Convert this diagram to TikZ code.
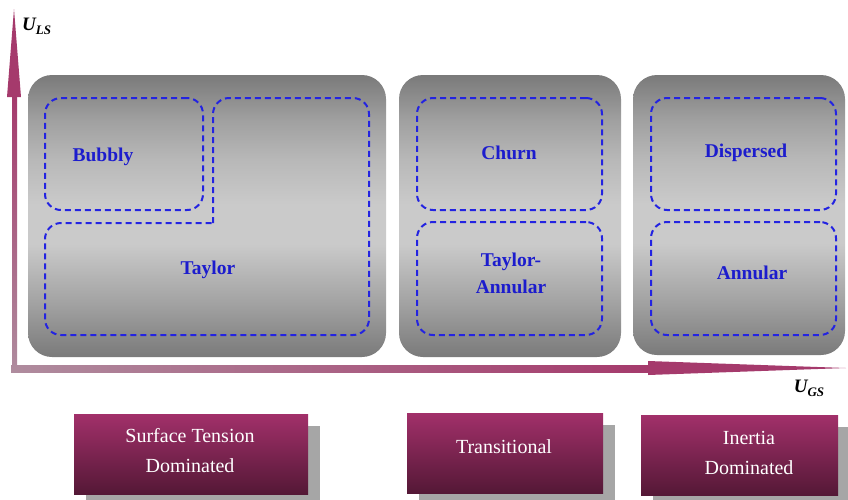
\documentclass[tikz,border=0pt]{standalone}
\usepackage{fontspec}
\setmainfont{Liberation Serif}
\usetikzlibrary{shadows,calc}
\definecolor{lblblue}{RGB}{28,28,205}
\definecolor{dashblue}{RGB}{35,35,225}
\definecolor{axmag}{RGB}{165,58,108}
\definecolor{axgray}{RGB}{175,140,158}
\definecolor{boxtop}{RGB}{162,48,106}
\definecolor{boxbot}{RGB}{84,24,54}
\definecolor{gdark}{RGB}{122,122,122}
\definecolor{gmid}{RGB}{160,160,160}
\definecolor{gmidb}{RGB}{184,184,184}
\definecolor{glight}{RGB}{202,202,202}
\pgfdeclareverticalshading{grayband}{100bp}{color(0bp)=(gdark); color(25bp)=(gdark); color(34bp)=(gmid); color(45bp)=(glight); color(52bp)=(glight); color(60bp)=(gmidb); color(67bp)=(gmid); color(75bp)=(gdark); color(100bp)=(gdark)}
\tikzset{
  graybox/.style={rounded corners=24pt, shade, shading=grayband, inner sep=0pt},
  regbox/.style={draw=dashblue, line width=2pt, dash pattern=on 6pt off 4pt, rounded corners=16pt, inner sep=0pt, minimum width=185pt, minimum height=112pt},
  regline/.style={draw=dashblue, line width=2pt, dash pattern=on 6pt off 4pt, rounded corners=16pt},
  reglabel/.style={text=lblblue, font=\fontsize{19.5}{26}\selectfont\bfseries, align=center, inner sep=0pt},
  forcebox/.style={top color=boxtop, bottom color=boxbot, inner sep=0pt, minimum height=80pt,
    drop shadow={shadow xshift=12pt, shadow yshift=-12pt, opacity=1, fill=black!35}},
  forcetext/.style={text=white, font=\fontsize{20}{30}\selectfont, align=center, inner sep=0pt},
  axlabel/.style={font=\fontsize{19}{20}\selectfont\bfseries\itshape, inner sep=0pt},
}
\begin{document}
\begin{tikzpicture}[x=1pt,y=-1pt]
\useasboundingbox (0,0) rectangle (848,499);
% axes
\shade[left color=axgray, right color=axmag] (11,365) rectangle (650,372);
\fill[axmag] (648,361) -- (846,368) -- (648,375) -- cycle;
\shade[top color=axmag, bottom color=axgray] (12,95) rectangle (17,372);
\fill[axmag] (7,97) -- (14,9) -- (21,97) -- cycle;
\coordinate (ytip) at (14,9);
\coordinate (xtip) at (846,368);
\node[axlabel, anchor=west] (uls) at (22,26) {U\raisebox{-4pt}{\fontsize{13}{13}\selectfont LS}};
\node[axlabel] (ugs) at (809,388) {U\raisebox{-4pt}{\fontsize{13}{13}\selectfont GS}};
% gray boxes
\node[graybox, minimum width=358pt, minimum height=282pt] (g1) at (207,216) {};
\node[graybox, minimum width=222pt, minimum height=282pt] (g2) at (510,216) {};
\node[graybox, minimum width=212pt, minimum height=280pt] (g3) at (739,215) {};
% dashed regions box 1
\node[regbox, minimum width=158pt] (rbub) at (124,154) {};
\coordinate (lcorner) at (213,223);
\draw[regline] (lcorner) -- (213,98) -- (369,98) -- (369,335) -- (45,335) -- (45,223) -- (lcorner);
\node[reglabel] (tbub) at (103,157) {Bubbly};
\node[reglabel] (ttay) at (208,270) {Taylor};
% box 2
\node[regbox] (rchu) at (509.5,154) {};
\node[regbox, minimum height=113pt] (rta) at (509.5,278.5) {};
\node[reglabel] (tchu) at (509,153) {Churn};
\node[reglabel, font=\fontsize{19.5}{27}\selectfont\bfseries] (tta) at (511,273) {Taylor-\\Annular};
% box 3
\node[regbox] (rdis) at (743.5,154) {};
\node[regbox, minimum height=113pt] (rann) at (743.5,278.5) {};
\node[reglabel] (tdis) at (746,153) {Dispersed};
\node[reglabel] (tann) at (752,273) {Annular};
% bottom boxes
\node[forcebox, minimum width=234pt] (f1) at (191,454) {};
\node[forcebox, minimum width=196pt] (f2) at (505,453) {};
\node[forcebox, minimum width=197pt] (f3) at (739.5,455) {};
\node[forcetext] (f1t) at (190,451) {Surface Tension\\Dominated};
\node[forcetext] (f2t) at (504,447) {Transitional};
\node[forcetext] (f3t) at (749,453) {Inertia\\Dominated};
\end{tikzpicture}
\end{document}
